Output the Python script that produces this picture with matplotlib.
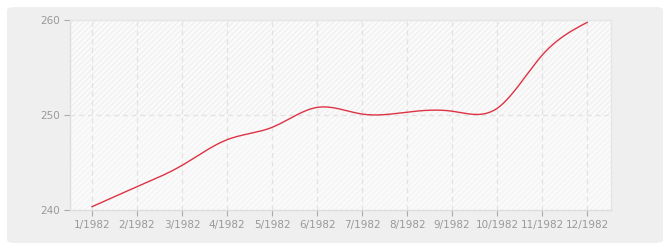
import numpy as np
import matplotlib
matplotlib.use('Agg')
import matplotlib.pyplot as plt
from matplotlib.patches import FancyBboxPatch

# Data
months = ['1/1982', '2/1982', '3/1982', '4/1982', '5/1982', '6/1982',
          '7/1982', '8/1982', '9/1982', '10/1982', '11/1982', '12/1982']
values = [240.35, 242.45, 244.7, 247.4, 248.7, 250.8,
          250.1, 250.3, 250.4, 250.7, 256.3, 259.75]
yticks = [240, 250, 260]


def natural_spline(x, y, n=400):
    # natural cubic spline used only to draw a smooth line through the points
    x = np.asarray(x, float)
    y = np.asarray(y, float)
    k = len(x)
    h = np.diff(x)
    A = np.zeros((k, k))
    b = np.zeros(k)
    A[0, 0] = A[-1, -1] = 1
    for i in range(1, k - 1):
        A[i, i - 1] = h[i - 1]
        A[i, i] = 2 * (h[i - 1] + h[i])
        A[i, i + 1] = h[i]
        b[i] = 6 * ((y[i + 1] - y[i]) / h[i] - (y[i] - y[i - 1]) / h[i - 1])
    m = np.linalg.solve(A, b)
    xs = np.linspace(x[0], x[-1], n)
    idx = np.clip(np.searchsorted(x, xs) - 1, 0, k - 2)
    x0, x1 = x[idx], x[idx + 1]
    hh = x1 - x0
    t0, t1 = x1 - xs, xs - x0
    ys = (m[idx] * t0 ** 3 / (6 * hh) + m[idx + 1] * t1 ** 3 / (6 * hh)
          + (y[idx] / hh - m[idx] * hh / 6) * t0
          + (y[idx + 1] / hh - m[idx + 1] * hh / 6) * t1)
    return xs, ys


plt.rcParams['hatch.linewidth'] = 0.6

fig = plt.figure(figsize=(6.7, 2.5), dpi=100)
fig.patch.set_facecolor('white')

# gray rounded panel behind the chart
panel = FancyBboxPatch((7 / 670, 7 / 250), 656 / 670, 236 / 250,
                       boxstyle='round,pad=0,rounding_size=0.012',
                       transform=fig.transFigure, facecolor='#efefef',
                       edgecolor='none', zorder=-5)
fig.patches.append(panel)

ax = fig.add_axes([70 / 670, 40 / 250, 541 / 670, 190 / 250])
ax.set_zorder(2)
ax.set_facecolor('#fbfbfb')

x = np.arange(len(months))
ax.set_xlim(-0.49, 11.53)
ax.set_ylim(240, 260)

# hatched background, a bit stronger in the upper half
ax.axhspan(250, 260, facecolor='#fafafa', edgecolor='#ececec', hatch='//////', linewidth=0, zorder=0)
ax.axhspan(240, 250, facecolor='#fafafa', edgecolor='#f2f2f2', hatch='//////', linewidth=0, zorder=0)

# grid
for xi in x:
    ax.axvline(xi, color='#e2e2e2', linestyle=(0, (4, 3)), linewidth=0.9, zorder=1)
ax.axhline(250, color='#e2e2e2', linestyle=(0, (4, 3)), linewidth=0.9, zorder=1)

xs, ys = natural_spline(x, values)
ax.plot(xs, ys, color='#dd3344', linewidth=1.0, zorder=3)

ax.set_xticks(x)
ax.set_xticklabels(months)
ax.set_yticks(yticks)
ax.tick_params(axis='both', colors='#aaaaaa', labelcolor='#999999', labelsize=7.5,
               length=4, width=0.8, pad=3)
for s in ['top', 'right']:
    ax.spines[s].set_color('#e5e5e5')
for s in ['left', 'bottom']:
    ax.spines[s].set_color('#dddddd')
for s in ax.spines.values():
    s.set_linewidth(1.0)

plt.savefig('out.png', dpi=100, facecolor='white')
